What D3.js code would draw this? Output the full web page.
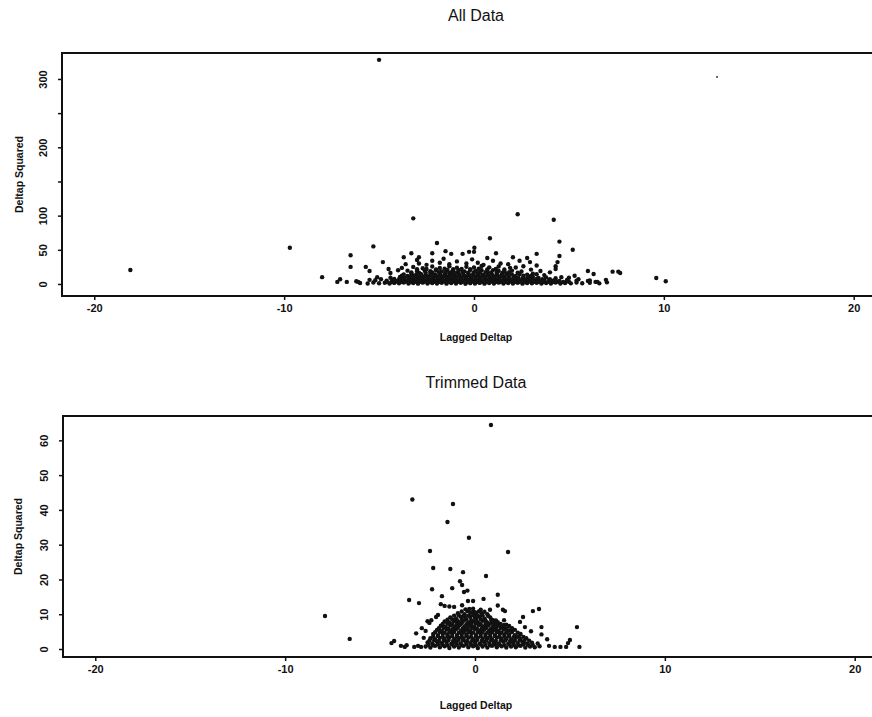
<!DOCTYPE html>
<html><head><meta charset="utf-8">
<script src="https://cdn.jsdelivr.net/npm/d3@7"></script>
<style>body{margin:0;background:#fff}svg{display:block}</style>
</head><body>
<svg id="chart" width="872" height="717"></svg>
<script>
// ---------- data ----------
const xTicks = [-20, -10, 0, 10, 20];
const allYTicks = [0, 50, 100, 150, 200, 250, 300];
const allYLabels = [0, 50, 100, 200, 300];
const trimYTicks = [0, 10, 20, 30, 40, 50, 60];
const trimYLabels = [0, 10, 20, 30, 40, 50, 60];

const allOutliers = [
[-18.1,20.5],[-9.7,53],[-8.0,10],[-7.2,3],[-7.05,7],[-6.7,3],[-6.5,42],[-6.5,25],[-6.1,3],[-5.7,25],[-5.5,19],[-5.3,55],[-5.0,328],[-4.8,32],[-5.1,10],[-4.4,16],[-3.7,39],[-3.3,45],[-3.2,96],[-2.9,39],[-2.2,45],[-1.95,60],[-1.5,48],[-1.2,44],[-0.6,44],[-0.26,47],[0.02,53],[0.0,47],[0.84,67],[1.16,45],[2.3,102],[2.05,39],[2.4,34],[2.8,38],[2.95,32],[3.3,44],[4.2,94],[4.5,62],[4.5,41],[4.4,32],[4.3,22],[5.2,50],[6.0,19],[6.3,14.6],[6.95,6],[7.3,18],[7.6,18],[7.7,16],[9.6,8.7],[10.1,4],[6.1,5],[6.5,3]
];
const allSpecks = [[12.8,303]];
const allCore = [
[-6.0,1.5],[-5.6,0.8],[-5.3,2.2],[-5.0,1.0],[-4.7,1.8],[-4.45,0.6],[-4.2,1.6],[-3.95,0.9],[-3.7,2.0],[-3.45,0.7],[-3.2,1.5],[-2.95,0.5],[-2.7,1.9],[-2.45,0.8],[-2.2,1.4],[-1.95,0.6],[-1.7,1.7],[-1.45,0.5],[-1.2,1.3],[-0.95,0.7],[-0.7,1.8],[-0.45,0.4],[-0.2,1.2],[0.05,0.6],[0.3,1.6],[0.55,0.5],[0.8,1.4],[1.05,0.8],[1.3,1.9],[1.55,0.6],[1.8,1.3],[2.05,0.7],[2.3,1.7],[2.55,0.5],[2.8,1.5],[3.05,0.9],[3.3,1.8],[3.55,0.6],[3.8,1.4],[4.05,0.8],[4.3,2.0],[4.55,0.7],[4.8,1.5],[5.1,0.9],[5.4,2.1],[5.7,1.0],[6.1,1.8],[6.6,0.9],[7.0,2.4],
[-4.6,3.2],[-4.35,2.8],[-4.1,3.4],[-3.85,2.9],[-3.6,3.5],[-3.35,2.7],[-3.1,3.3],[-2.85,3.0],[-2.6,3.6],[-2.35,2.8],[-2.1,3.2],[-1.85,2.9],[-1.6,3.5],[-1.35,2.7],[-1.1,3.4],[-0.85,3.0],[-0.6,3.3],[-0.35,2.8],[-0.1,3.6],[0.15,2.9],[0.4,3.2],[0.65,2.7],[0.9,3.5],[1.15,3.0],[1.4,3.3],[1.65,2.8],[1.9,3.4],[2.15,2.9],[2.4,3.2],[2.65,2.7],[2.9,3.5],[3.15,3.0],[3.4,3.3],[3.65,2.8],[3.9,3.1],[4.15,2.9],[4.4,3.4],[4.7,2.8],[5.0,3.2],
[-5.2,5.5],[-4.6,4.8],[-4.3,6.0],[-4.05,4.5],[-3.8,5.6],[-3.55,4.2],[-3.3,6.1],[-3.05,4.7],[-2.8,5.4],[-2.55,4.3],[-2.3,5.9],[-2.05,4.6],[-1.8,5.5],[-1.55,4.1],[-1.3,6.2],[-1.05,4.8],[-0.8,5.3],[-0.55,4.4],[-0.3,6.0],[-0.05,4.6],[0.2,5.7],[0.45,4.3],[0.7,5.9],[0.95,4.7],[1.2,5.4],[1.45,4.2],[1.7,6.1],[1.95,4.9],[2.2,5.5],[2.45,4.4],[2.7,5.8],[2.95,4.6],[3.2,5.2],[3.45,4.3],[3.7,5.7],[3.95,4.8],[4.2,5.3],[4.5,4.5],[4.9,5.8],[5.4,4.9],
[-4.2,7.4],[-3.95,7.0],[-3.7,7.6],[-3.45,7.1],[-3.2,7.5],[-2.95,6.9],[-2.7,7.7],[-2.45,7.2],[-2.2,7.4],[-1.95,7.0],[-1.7,7.6],[-1.45,7.1],[-1.2,7.5],[-0.95,6.9],[-0.7,7.7],[-0.45,7.2],[-0.2,7.4],[0.05,7.0],[0.3,7.6],[0.55,7.1],[0.8,7.5],[1.05,6.9],[1.3,7.7],[1.55,7.2],[1.8,7.4],[2.05,7.0],[2.3,7.6],[2.55,7.1],[2.8,7.3],[3.05,6.9],[3.3,7.5],[3.6,7.1],[4.0,7.0],
[-4.4,9.0],[-3.9,10.2],[-3.65,8.8],[-3.4,10.5],[-3.15,9.2],[-2.9,10.0],[-2.65,8.7],[-2.4,10.6],[-2.15,9.3],[-1.9,10.1],[-1.65,8.9],[-1.4,10.7],[-1.15,9.4],[-0.9,10.3],[-0.65,8.8],[-0.4,10.8],[-0.15,9.1],[0.1,10.4],[0.35,8.9],[0.6,10.6],[0.85,9.2],[1.1,10.2],[1.35,8.8],[1.6,10.5],[1.85,9.3],[2.1,10.0],[2.35,8.7],[2.6,9.9],[2.85,9.0],[3.1,10.1],[3.4,8.8],[3.8,9.6],[4.3,8.5],
[-3.8,12.0],[-3.5,11.6],[-3.25,12.3],[-3.0,11.8],[-2.75,12.4],[-2.5,11.7],[-2.25,12.2],[-2.0,11.9],[-1.75,12.5],[-1.5,11.6],[-1.25,12.1],[-1.0,11.8],[-0.75,12.4],[-0.5,11.7],[-0.25,12.3],[0.0,11.9],[0.25,12.2],[0.5,11.6],[0.75,12.4],[1.0,11.8],[1.25,12.1],[1.5,11.7],[1.8,12.2],[2.2,11.8],[2.6,12.0],[3.0,11.6],
[-3.7,14.0],[-3.3,15.2],[-3.05,13.6],[-2.8,14.8],[-2.55,13.4],[-2.3,15.5],[-2.05,13.8],[-1.8,14.9],[-1.55,13.5],[-1.3,15.6],[-1.05,14.1],[-0.8,15.0],[-0.55,13.6],[-0.3,15.4],[-0.05,14.2],[0.2,15.1],[0.45,13.7],[0.7,15.3],[0.95,14.0],[1.2,14.9],[1.45,13.5],[1.7,15.2],[2.0,13.9],[2.4,14.6],[2.8,13.5],[3.3,14.2],
[-3.3,17.0],[-2.9,16.6],[-2.55,17.3],[-2.2,16.8],[-1.85,17.4],[-1.5,16.7],[-1.2,17.2],[-0.9,16.9],[-0.6,17.5],[-0.3,16.6],[0.0,17.1],[0.3,16.8],[0.6,17.4],[0.9,16.7],[1.2,17.0],[1.5,16.6],[1.85,17.2],[2.3,16.5],
[-3.5,19.5],[-3.0,18.6],[-2.6,20.2],[-2.3,18.8],[-2.0,19.9],[-1.7,18.4],[-1.4,20.5],[-1.1,19.0],[-0.8,20.1],[-0.5,18.5],[-0.2,20.4],[0.1,19.2],[0.4,20.0],[0.7,18.7],[1.0,20.3],[1.3,19.1],[1.6,18.5],[2.0,19.6],[2.5,18.2],
[-3.0,21.6],[-2.5,22.0],[-2.0,21.4],[-1.55,22.2],[-1.1,21.5],[-0.65,22.1],[-0.2,21.7],[0.25,22.3],[0.7,21.4],[1.15,22.0],[1.6,21.3],
[-3.8,23.5],[-3.2,25.0],[-2.7,23.0],[-2.2,25.6],[-1.8,23.4],[-1.3,26.0],[-0.9,23.8],[-0.4,25.2],[0.0,24.0],[0.4,26.2],[0.8,24.3],[1.3,25.5],[1.9,23.6],
[-4.5,22],[-4.0,20],[-3.6,29],[-2.9,30],[-2.5,28],[-1.8,31],[-1.3,29],[-0.9,33],[-0.4,30],[0.2,31],[0.5,28],[1.0,34],[1.4,30],[1.8,29],[2.2,24],[2.6,26],[3.0,21],[3.5,19],[4.0,17],[0.7,38],[-0.1,36],[-2.2,34],[-3.0,35],[3.3,27],[4.3,26],[-1.6,37],[3.1,15],[3.7,13],[4.6,10],[5.0,9],[5.5,7],[5.3,12],[-4.9,7],[-5.5,6],[-6.2,4],[6.0,4.5],[6.4,3]
];

const trimOutliers = [
[0.84,64.4],[-7.9,9.5],[-6.6,2.9],[-3.3,43],[-1.16,41.7],[-1.45,36.5],[-0.32,32],[-2.37,28.2],[1.74,27.9],[-2.2,23.3],[-1.3,23],[-0.63,22.1],[0.58,21],[-0.79,19.5],[-0.68,18.4],[-1.2,17.5],[-2.26,17.2],[-0.58,16.4],[-0.4,16.8],[-1.74,15.2],[1.2,15.6],[-3.47,14.1],[-2.95,13.2],[-0.37,13.8],[-0.1,13.8],[0.45,14.4],[-1.8,12.9],[-1.6,12.4],[-1.35,12.2],[-1.1,12.1],[-0.68,12.6],[0.79,11.3],[1.2,12.5],[1.47,11.3],[1.58,10.9],[3.05,10.9],[3.37,11.5],[2.53,9.2],[5.37,6.3],[3.5,6.3],[2.95,5.1],[3.5,4.2],[3.8,2.8],[5.0,2.6],[4.9,1.7],[5.5,0.6],[4.8,0.6],[4.5,0.6],[4.2,0.6],[3.9,0.9],[-3.1,4.5],[-2.8,6.0],[-2.7,3.2],[-2.5,8],[-2.05,9.2],[-1.95,9.8],[-2.3,8.3],[-2.4,7.5],[-2.6,5.2],[-4.4,1.7],[-4.26,2.3],[-3.9,0.9],[-3.7,0.6],[-3.6,1.1],[-3.2,0.6],[-3.0,0.9],[-2.84,0.6],[-0.3,11.5],[0.0,10.6],[0.1,9.2],[2.37,7.8],[2.63,6.3],[1.53,8.3],[1.53,6.9],[0.95,8.3],[1.0,7.5]
];
const trimCore = [
[-2.6,0.7],[-2.35,0.4],[-2.1,0.9],[-1.85,0.5],[-1.6,0.8],[-1.35,0.3],[-1.1,0.7],[-0.85,0.4],[-0.6,0.9],[-0.35,0.5],[-0.1,0.8],[0.15,0.3],[0.4,0.7],[0.65,0.4],[0.9,0.9],[1.15,0.5],[1.4,0.8],[1.65,0.4],[1.9,0.7],[2.15,0.5],[2.4,0.9],[2.65,0.4],[2.9,0.7],[3.15,0.5],[3.4,0.8],
[-2.45,1.2],[-2.2,1.1],[-1.95,1.3],[-1.7,1.2],[-1.45,1.1],[-1.2,1.3],[-0.95,1.2],[-0.7,1.1],[-0.45,1.3],[-0.2,1.2],[0.05,1.1],[0.3,1.3],[0.55,1.2],[0.8,1.1],[1.05,1.3],[1.3,1.2],[1.55,1.1],[1.8,1.3],[2.05,1.2],[2.3,1.1],[2.55,1.3],[2.8,1.2],[3.05,1.1],
[-2.5,1.9],[-2.25,1.6],[-2.0,2.1],[-1.75,1.7],[-1.5,2.0],[-1.25,1.5],[-1.0,1.9],[-0.75,1.6],[-0.5,2.1],[-0.25,1.7],[0.0,1.9],[0.25,1.5],[0.5,2.0],[0.75,1.7],[1.0,1.8],[1.25,1.5],[1.5,2.1],[1.75,1.6],[2.0,1.9],[2.25,1.7],[2.5,2.0],[2.75,1.5],[3.0,1.8],[3.3,1.6],
[-2.4,2.4],[-2.15,2.5],[-1.9,2.3],[-1.65,2.4],[-1.4,2.5],[-1.15,2.3],[-0.9,2.4],[-0.65,2.5],[-0.4,2.3],[-0.15,2.4],[0.1,2.5],[0.35,2.3],[0.6,2.4],[0.85,2.5],[1.1,2.3],[1.35,2.4],[1.6,2.5],[1.85,2.3],[2.1,2.4],[2.35,2.5],[2.6,2.3],[2.85,2.4],
[-2.35,3.1],[-2.1,2.8],[-1.85,3.2],[-1.6,2.9],[-1.35,3.3],[-1.1,2.8],[-0.85,3.1],[-0.6,2.9],[-0.35,3.3],[-0.1,2.8],[0.15,3.2],[0.4,2.9],[0.65,3.1],[0.9,2.8],[1.15,3.3],[1.4,2.9],[1.65,3.0],[1.9,2.8],[2.15,3.2],[2.4,2.9],[2.7,3.1],
[-2.2,3.6],[-1.95,3.7],[-1.7,3.5],[-1.45,3.6],[-1.2,3.7],[-0.95,3.5],[-0.7,3.6],[-0.45,3.7],[-0.2,3.5],[0.05,3.6],[0.3,3.7],[0.55,3.5],[0.8,3.6],[1.05,3.7],[1.3,3.5],[1.55,3.6],[1.8,3.7],[2.05,3.5],[2.3,3.6],[2.55,3.5],
[-2.2,4.3],[-1.95,4.0],[-1.7,4.4],[-1.45,4.1],[-1.2,4.5],[-0.95,4.0],[-0.7,4.3],[-0.45,4.1],[-0.2,4.5],[0.05,4.0],[0.3,4.4],[0.55,4.1],[0.8,4.3],[1.05,4.0],[1.3,4.4],[1.55,4.1],[1.8,4.2],[2.1,4.0],[2.4,4.3],
[-2.1,4.8],[-1.85,4.9],[-1.6,4.7],[-1.35,4.8],[-1.1,4.9],[-0.85,4.7],[-0.6,4.8],[-0.35,4.9],[-0.1,4.7],[0.15,4.8],[0.4,4.9],[0.65,4.7],[0.9,4.8],[1.15,4.9],[1.4,4.7],[1.65,4.8],[1.95,4.9],[2.25,4.7],
[-2.0,5.5],[-1.75,5.2],[-1.5,5.6],[-1.25,5.3],[-1.0,5.7],[-0.75,5.2],[-0.5,5.5],[-0.25,5.3],[0.0,5.7],[0.25,5.2],[0.5,5.6],[0.75,5.3],[1.0,5.5],[1.25,5.2],[1.5,5.6],[1.8,5.3],[2.1,5.5],
[-1.9,6.0],[-1.65,6.1],[-1.4,5.9],[-1.15,6.0],[-0.9,6.1],[-0.65,5.9],[-0.4,6.0],[-0.15,6.1],[0.1,5.9],[0.35,6.0],[0.6,6.1],[0.85,5.9],[1.1,6.0],[1.35,6.1],[1.65,5.9],[1.95,6.0],
[-1.8,6.7],[-1.55,6.4],[-1.3,6.8],[-1.05,6.5],[-0.8,6.9],[-0.55,6.4],[-0.3,6.7],[-0.05,6.5],[0.2,6.9],[0.45,6.4],[0.7,6.8],[0.95,6.5],[1.2,6.7],[1.5,6.4],[1.8,6.6],
[-1.7,7.2],[-1.45,7.3],[-1.2,7.1],[-0.95,7.2],[-0.7,7.3],[-0.45,7.1],[-0.2,7.2],[0.05,7.3],[0.3,7.1],[0.55,7.2],[0.8,7.3],[1.05,7.1],[1.35,7.2],[1.65,7.0],
[-1.6,7.9],[-1.35,7.6],[-1.1,8.0],[-0.85,7.7],[-0.6,8.1],[-0.35,7.6],[-0.1,7.9],[0.15,7.7],[0.4,8.1],[0.65,7.6],[0.9,7.9],[1.2,7.7],
[-1.45,8.4],[-1.2,8.5],[-0.95,8.3],[-0.7,8.4],[-0.45,8.5],[-0.2,8.3],[0.05,8.4],[0.3,8.5],[0.55,8.3],[0.85,8.4],[1.1,8.2],
[-1.3,9.1],[-1.0,8.8],[-0.75,9.3],[-0.5,8.9],[-0.25,9.2],[0.0,8.9],[0.25,9.3],[0.5,8.8],[0.8,9.1],
[-1.1,9.6],[-0.85,9.7],[-0.6,9.5],[-0.35,9.6],[-0.1,9.7],[0.15,9.5],[0.4,9.6],[0.7,9.5],
[-0.9,10.3],[-0.55,10.0],[-0.25,10.4],[0.05,10.1],[0.35,10.3],[0.65,10.0],
[-0.7,10.8],[-0.4,10.9],[-0.1,10.7],[0.2,10.8],[0.5,10.7],
[-0.5,11.4],[-0.1,11.6],[0.3,11.3]
];

// ---------- drawing ----------
const svg = d3.select("#chart");
const FONT = "'Liberation Sans', Arial, Helvetica, sans-serif";
const INK = "#111";

function panel(cfg) {
  const x = d3.scaleLinear().domain(cfg.xDomain).range([cfg.left, cfg.right]);
  const y = d3.scaleLinear().domain(cfg.yDomain).range([cfg.bottom, cfg.top]);
  const g = svg.append("g");

  g.append("text").attr("x", 476).attr("y", cfg.titleY)
    .attr("text-anchor", "middle").attr("font-family", FONT)
    .attr("font-size", 16).attr("fill", INK).text(cfg.title);

  g.append("rect").attr("x", cfg.left).attr("y", cfg.top)
    .attr("width", cfg.right - cfg.left).attr("height", cfg.bottom - cfg.top)
    .attr("fill", "none").attr("stroke", INK).attr("stroke-width", 2);

  const xa = g.append("g").attr("transform", `translate(0,${cfg.bottom})`)
    .call(d3.axisBottom(x).tickValues(xTicks).tickSize(4).tickPadding(4).tickFormat(d => String(d)));
  xa.select(".domain").remove();
  xa.selectAll("line").attr("stroke", INK).attr("stroke-width", 1.5);
  xa.selectAll("text").attr("font-family", FONT).attr("font-size", 11)
    .attr("font-weight", "bold").attr("fill", INK);

  const ya = g.append("g").attr("transform", `translate(${cfg.left},0)`)
    .call(d3.axisLeft(y).tickValues(cfg.yTicks).tickSize(4)
      .tickFormat(d => cfg.yLabels.includes(d) ? String(d) : ""));
  ya.select(".domain").remove();
  ya.selectAll("line").attr("stroke", INK).attr("stroke-width", 1.5);
  ya.selectAll("text").attr("transform", "rotate(-90)")
    .attr("x", 0).attr("y", -19).attr("dy", "0.35em").attr("text-anchor", "middle")
    .attr("font-family", FONT).attr("font-size", 11)
    .attr("font-weight", "bold").attr("fill", INK);

  g.append("text").attr("x", 476).attr("y", cfg.xLabelY)
    .attr("text-anchor", "middle").attr("font-family", FONT)
    .attr("font-size", 10.5).attr("font-weight", "bold").attr("fill", INK)
    .text("Lagged Deltap");
  g.append("text")
    .attr("transform", `translate(${cfg.yLabelX},${(cfg.top + cfg.bottom) / 2}) rotate(-90)`)
    .attr("text-anchor", "middle").attr("dy", "0.35em").attr("font-family", FONT)
    .attr("font-size", 10.5).attr("font-weight", "bold").attr("fill", INK)
    .text("Deltap Squared");

  const pts = g.append("g").attr("fill", INK);
  pts.selectAll("circle.core").data(cfg.core).join("circle").attr("class", "core")
    .attr("cx", d => x(d[0])).attr("cy", d => y(d[1])).attr("r", 2.2);
  pts.selectAll("circle.out").data(cfg.outliers).join("circle").attr("class", "out")
    .attr("cx", d => x(d[0])).attr("cy", d => y(d[1])).attr("r", 2.2);
  pts.selectAll("circle.speck").data(cfg.specks || []).join("circle").attr("class", "speck")
    .attr("cx", d => x(d[0])).attr("cy", d => y(d[1])).attr("r", 0.9);
}

panel({
  title: "All Data", titleY: 21,
  left: 62, right: 886, top: 53, bottom: 296,
  xDomain: [-21.7, 21.7], yDomain: [-17.6, 338],
  yTicks: allYTicks, yLabels: allYLabels,
  xLabelY: 341, yLabelX: 19,
  core: allCore, outliers: allOutliers, specks: allSpecks
});

panel({
  title: "Trimmed Data", titleY: 388,
  left: 63, right: 887, top: 416, bottom: 657,
  xDomain: [-21.7, 21.7], yDomain: [-2.3, 67],
  yTicks: trimYTicks, yLabels: trimYLabels,
  xLabelY: 709, yLabelX: 18,
  core: trimCore, outliers: trimOutliers
});
</script>
</body></html>
